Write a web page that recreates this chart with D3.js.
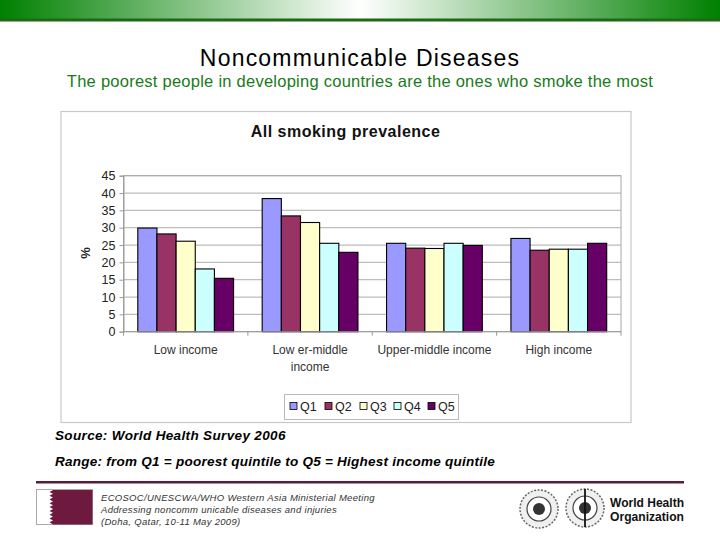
<!DOCTYPE html>
<html><head><meta charset="utf-8">
<script src="https://cdn.jsdelivr.net/npm/d3@7"></script>
<style>body{margin:0;background:#fff;}svg{display:block;}</style>
</head><body>
<svg id="s" width="720" height="540"></svg>
<script>
const categories = [["Low  income"], ["Low er-middle", "income"], ["Upper-middle income"], ["High income"]];
const seriesNames = ["Q1", "Q2", "Q3", "Q4", "Q5"];
const q1 = [29.9, 38.4, 25.5, 26.9];
const q2 = [28.2, 33.4, 24.1, 23.5];
const q3 = [26.1, 31.5, 24.0, 23.8];
const q4 = [18.1, 25.5, 25.5, 23.8];
const q5 = [15.4, 22.9, 24.9, 25.5];
const yTicks = [0, 5, 10, 15, 20, 25, 30, 35, 40, 45];
const colors = ["#9999FF", "#993366", "#FFFFCC", "#CCFFFF", "#660066"];
const series = [q1, q2, q3, q4, q5];

const svg = d3.select("#s");
const F = "'Liberation Sans', Arial, sans-serif";

// top banner
const defs = svg.append("defs");
const g1 = defs.append("linearGradient").attr("id", "ban").attr("x1", "0").attr("x2", "1");
[[0, "#008000"], [0.5, "#ffffff"], [1, "#008000"]].forEach(([o, c]) => g1.append("stop").attr("offset", o).attr("stop-color", c));
svg.append("rect").attr("x", 0).attr("y", 0).attr("width", 720).attr("height", 19).attr("fill", "url(#ban)");
svg.append("rect").attr("x", 0).attr("y", 18.5).attr("width", 720).attr("height", 3).attr("fill", "#1c6b14");

// slide titles
svg.append("text").attr("x", 360).attr("y", 66).attr("text-anchor", "middle")
  .attr("font-family", F).attr("font-size", 23).attr("letter-spacing", 1.2).attr("fill", "#000")
  .text("Noncommunicable Diseases");
svg.append("text").attr("x", 360).attr("y", 87).attr("text-anchor", "middle")
  .attr("font-family", F).attr("font-size", 16.5).attr("letter-spacing", 0.25).attr("fill", "#1a7a1a")
  .text("The poorest people in developing countries are the ones who smoke the most");

// chart frame
svg.append("rect").attr("x", 61).attr("y", 111.5).attr("width", 570).attr("height", 311)
  .attr("fill", "#fff").attr("stroke", "#c8c8c8").attr("stroke-width", 1.2);

svg.append("text").attr("x", 345.5).attr("y", 137).attr("text-anchor", "middle")
  .attr("font-family", F).attr("font-weight", "bold").attr("font-size", 16).attr("letter-spacing", 0.5).attr("fill", "#111")
  .text("All smoking prevalence");

const plot = {x0: 123.5, x1: 621, y0: 175.7, y1: 331.7};
const x = d3.scaleBand().domain(d3.range(categories.length)).range([plot.x0, plot.x1]).paddingInner(0).paddingOuter(0);
const inner = d3.scaleBand().domain(d3.range(seriesNames.length)).range([x.bandwidth() * 0.115, x.bandwidth() * 0.885]);
const y = d3.scaleLinear().domain([0, 45]).range([plot.y1, plot.y0]);

// gridlines
svg.append("g").selectAll("line").data(yTicks.slice(1)).join("line")
  .attr("x1", plot.x0).attr("x2", plot.x1).attr("y1", d => y(d)).attr("y2", d => y(d))
  .attr("stroke", "#bdbdbd").attr("stroke-width", 1.2);
svg.append("rect").attr("x", plot.x0).attr("y", plot.y0).attr("width", plot.x1 - plot.x0).attr("height", plot.y1 - plot.y0)
  .attr("fill", "none").attr("stroke", "#a8a8a8").attr("stroke-width", 1);

// y axis
const yAxis = d3.axisLeft(y).tickValues(yTicks).tickSize(4).tickPadding(4);
const ya = svg.append("g").attr("transform", `translate(${plot.x0},0)`).call(yAxis);
ya.select(".domain").attr("stroke", "#999");
ya.selectAll(".tick line").attr("stroke", "#999");
ya.selectAll("text").attr("font-family", F).attr("font-size", 12.5).attr("fill", "#222");

svg.append("text").attr("transform", "translate(90,253) rotate(-90)").attr("text-anchor", "middle")
  .attr("font-family", F).attr("font-weight", "bold").attr("font-size", 13).attr("fill", "#222").text("%");

// bars
const gb = svg.append("g");
series.forEach((vals, si) => {
  gb.append("g").selectAll("rect").data(vals).join("rect")
    .attr("x", (d, i) => x(i) + inner(si))
    .attr("y", d => y(d))
    .attr("width", inner.bandwidth())
    .attr("height", d => y(0) - y(d))
    .attr("fill", colors[si]).attr("stroke", "#000").attr("stroke-width", 1.1);
});

// x axis
const xa = svg.append("g").attr("transform", `translate(0,${plot.y1})`);
xa.append("line").attr("x1", plot.x0).attr("x2", plot.x1).attr("stroke", "#999");
xa.selectAll("line.t").data(d3.range(categories.length + 1)).join("line").attr("class", "t")
  .attr("x1", i => plot.x0 + i * x.bandwidth()).attr("x2", i => plot.x0 + i * x.bandwidth())
  .attr("y1", 0).attr("y2", 4).attr("stroke", "#999");
categories.forEach((lines, i) => {
  const t = xa.append("text").attr("text-anchor", "middle").attr("font-family", F).attr("font-size", 12).attr("fill", "#333");
  lines.forEach((l, k) => t.append("tspan").attr("x", x(i) + x.bandwidth() / 2).attr("y", 22 + k * 17.5).text(l));
});

// legend
svg.append("rect").attr("x", 284.5).attr("y", 394.5).attr("width", 174).attr("height", 25)
  .attr("fill", "#fff").attr("stroke", "#bbb");
const lx = [290, 325, 360, 394, 428];
seriesNames.forEach((n, i) => {
  svg.append("rect").attr("x", lx[i]).attr("y", 402.5).attr("width", 7).attr("height", 7)
    .attr("fill", colors[i]).attr("stroke", "#000").attr("stroke-width", 0.8);
  svg.append("text").attr("x", lx[i] + 10).attr("y", 411).attr("font-family", F).attr("font-size", 12.5).attr("fill", "#222").text(n);
});

// notes
svg.append("text").attr("x", 55).attr("y", 440).attr("font-family", F).attr("font-style", "italic").attr("font-weight", "bold")
  .attr("font-size", 13.5).attr("letter-spacing", 0.35).attr("fill", "#000").text("Source: World Health Survey 2006");
svg.append("text").attr("x", 55).attr("y", 466).attr("font-family", F).attr("font-style", "italic").attr("font-weight", "bold")
  .attr("font-size", 13.5).attr("letter-spacing", 0.25).attr("fill", "#000").text("Range: from Q1 = poorest quintile to Q5 = Highest income quintile");

// footer
svg.append("rect").attr("x", 36).attr("y", 481).attr("width", 648).attr("height", 2.5).attr("fill", "#5a1d3c");
svg.append("rect").attr("x", 36.5).attr("y", 489.5).attr("width", 56).attr("height", 35).attr("fill", "#fff").attr("stroke", "#aaa");
let pts = [[92.5, 490], [53, 490]];
for (let k = 0; k < 9; k++) { pts.push([53, 490 + k * 3.8]); pts.push([49.5, 491.9 + k * 3.8]); }
pts.push([53, 524.5]); pts.push([92.5, 524.5]);
svg.append("polygon").attr("points", pts.map(p => p.join(",")).join(" ")).attr("fill", "#6e1a3e");
const ft = svg.append("text").attr("font-family", F).attr("font-style", "italic").attr("font-size", 9.5).attr("letter-spacing", 0.3).attr("fill", "#333");
["ECOSOC/UNESCWA/WHO Western Asia Ministerial Meeting", "Addressing noncomm unicable diseases and injuries", "(Doha, Qatar, 10-11 May 2009)"]
  .forEach((l, k) => ft.append("tspan").attr("x", 101).attr("y", 501 + k * 12).text(l));

// logos (approximation)
[[539, 509], [585, 508]].forEach(([cx, cy]) => {
  const lg = svg.append("g");
  lg.append("circle").attr("cx", cx).attr("cy", cy).attr("r", 19).attr("fill", "#f0f0f0").attr("stroke", "#666").attr("stroke-width", 1.5).attr("stroke-dasharray", "2,1.5");
  lg.append("circle").attr("cx", cx).attr("cy", cy).attr("r", 12).attr("fill", "#fff").attr("stroke", "#444").attr("stroke-width", 1.2);
  lg.append("circle").attr("cx", cx).attr("cy", cy).attr("r", 6).attr("fill", "#333");
});
svg.append("line").attr("x1", 585).attr("x2", 585).attr("y1", 489).attr("y2", 527).attr("stroke", "#111").attr("stroke-width", 1.8);
svg.append("text").attr("x", 610).attr("y", 507).attr("font-family", F).attr("font-weight", "bold").attr("font-size", 13.5)
  .attr("textLength", 74).attr("lengthAdjust", "spacingAndGlyphs").attr("fill", "#111").text("World Health");
svg.append("text").attr("x", 610).attr("y", 520.5).attr("font-family", F).attr("font-weight", "bold").attr("font-size", 13.5)
  .attr("textLength", 74).attr("lengthAdjust", "spacingAndGlyphs").attr("fill", "#111").text("Organization");
</script>
</body></html>
